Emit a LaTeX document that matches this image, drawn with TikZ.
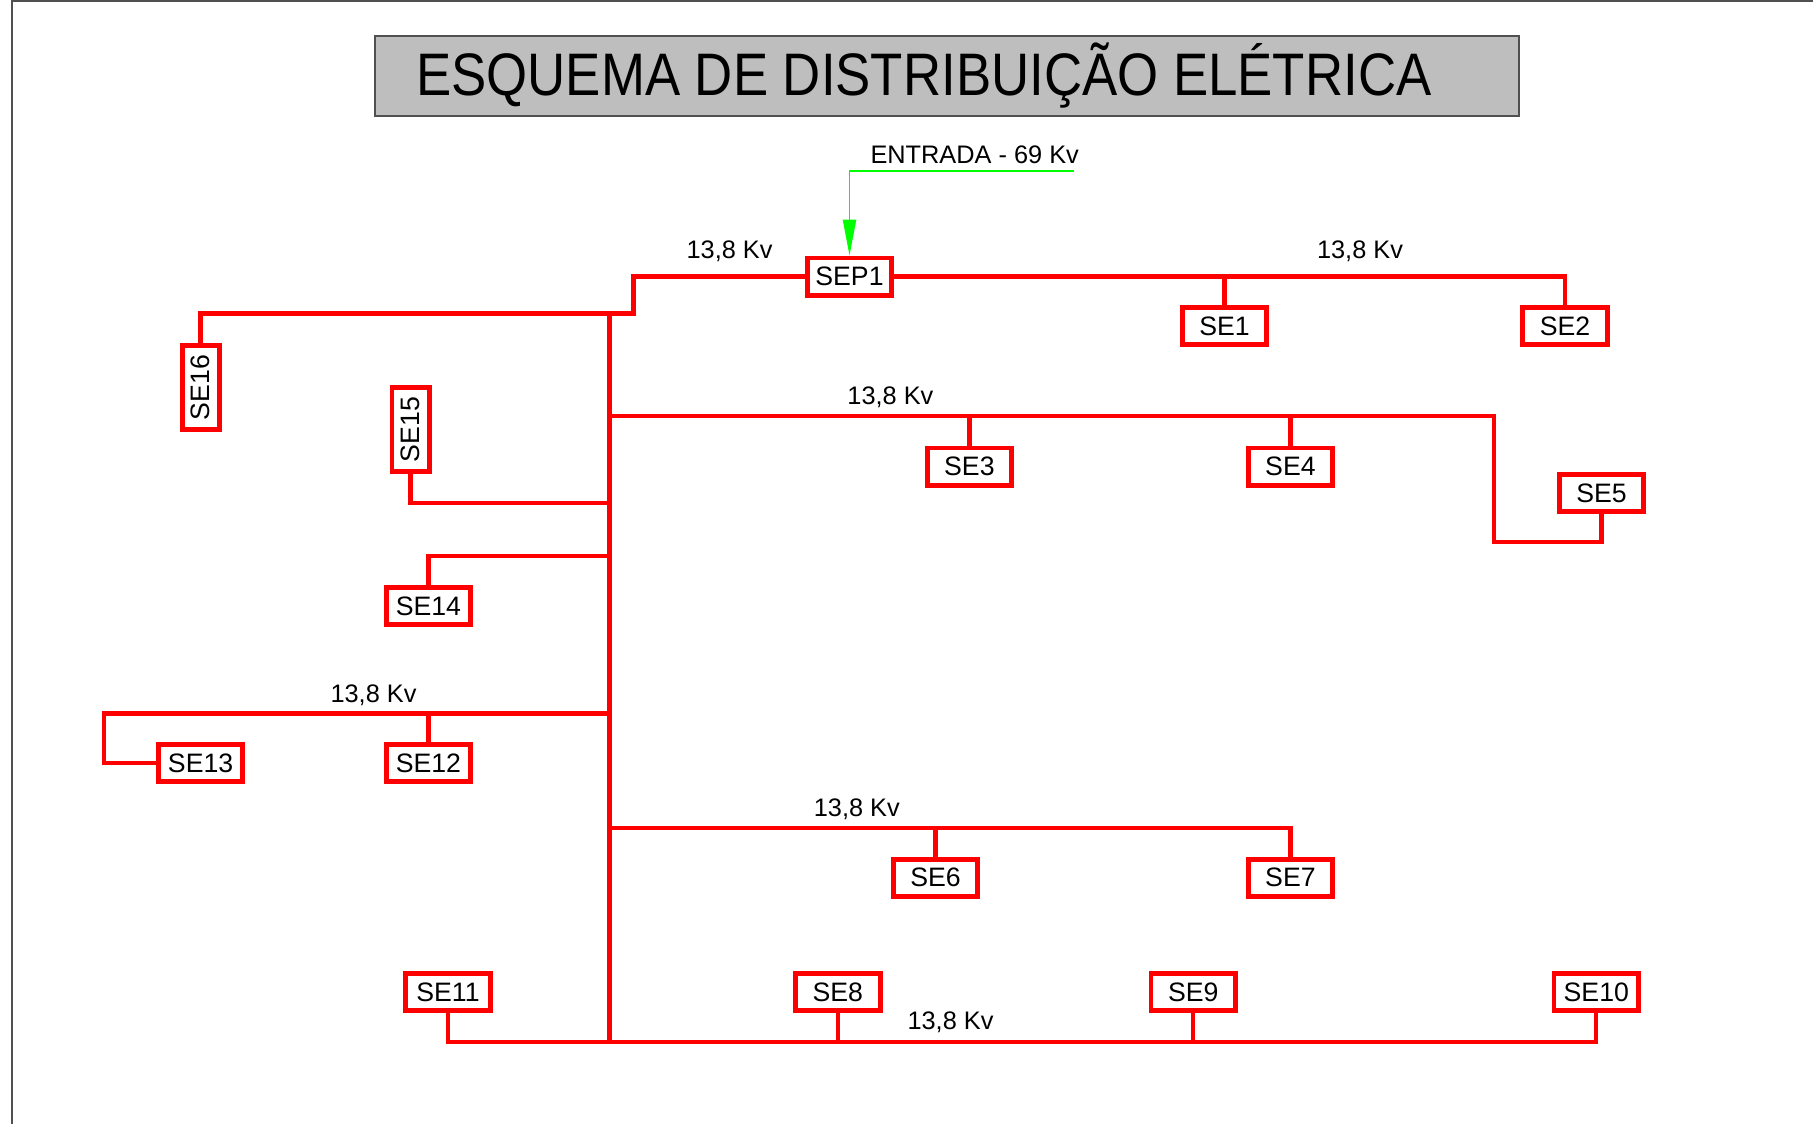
\documentclass[tikz,border=0pt]{standalone}
\usepackage{fontspec}
\setmainfont{Liberation Sans}
\usetikzlibrary{arrows.meta}

\definecolor{titlegray}{HTML}{BEBEBE}
\definecolor{framegray}{HTML}{505050}

\tikzset{
  sebox/.style={draw=red, line width=3.7pt, fill=white, inner sep=0pt,
    minimum width=63.5pt, minimum height=27.8pt, font=\fontsize{20}{24}\selectfont},
  wire/.style={draw=red, line width=3.2pt, line cap=rect, line join=miter},
  kvlabel/.style={anchor=base, font=\fontsize{19}{23}\selectfont},
}

\begin{document}
\begin{tikzpicture}[x=0.75pt, y=-0.75pt]
\useasboundingbox (0,0) rectangle (1813,1124);

% moldura
\draw[framegray, line width=1.5pt] (12,1124) -- (12,1) -- (1813,1);

% titulo
\node[draw=framegray, line width=1.5pt, fill=titlegray, minimum width=858pt, minimum height=60pt] (title) at (947,75.7) {};
\node[anchor=base west, inner sep=0pt, font=\fontsize{45}{54}\selectfont] (titletext) at (416,95) {\scalebox{0.88}[1]{ESQUEMA DE DISTRIBUIÇÃO ELÉTRICA}};

% entrada
\coordinate (in) at (1074,171);
\node[kvlabel] (entrada) at (974.7,163) {ENTRADA - 69 Kv};

% barramento de derivacao
\coordinate (bend) at (633.6,313.4);
\coordinate (trunktop) at (609.4,313.4);
\coordinate (trunkbot) at (609.4,1042);
\coordinate (ba) at (609.4,416);
\coordinate (bb) at (609.4,713.4);
\coordinate (bc) at (609.4,828);

\draw[wire] (trunktop) -- (trunkbot);

% subestacoes
\node[sebox] (SEP1) at (849.5,276.5) {SEP1};
\node[sebox] (SE1) at (1224.5,326) {SE1};
\node[sebox] (SE2) at (1565,326) {SE2};
\node[sebox] (SE3) at (969.4,466.5) {SE3};
\node[sebox] (SE4) at (1290.4,466.5) {SE4};
\node[sebox] (SE5) at (1601.5,493) {SE5};
\node[sebox] (SE6) at (935.5,877.7) {SE6};
\node[sebox] (SE7) at (1290.4,877.7) {SE7};
\node[sebox] (SE8) at (837.8,992) {SE8};
\node[sebox] (SE9) at (1193.3,992) {SE9};
\node[sebox] (SE10) at (1596.3,992) {SE10};
\node[sebox] (SE11) at (448,992) {SE11};
\node[sebox] (SE12) at (428.4,763) {SE12};
\node[sebox] (SE13) at (200.6,763) {SE13};
\node[sebox] (SE14) at (428.4,606) {SE14};
\node[sebox, rotate=90] (SE15) at (410.5,429.6) {SE15};
\node[sebox, rotate=90] (SE16) at (200.6,387.4) {SE16};

% ligacoes
\draw[wire] (SEP1.east) -- (SE2.north |- SEP1.east) -- (SE2.north);
\draw[wire] (SE1.north) -- (SE1.north |- SEP1.east);
\draw[wire] (SEP1.west) -| (bend) -- (SE16.east |- bend) -- (SE16.east);
\draw[wire] (trunktop) -- (bend);

\draw[wire] (ba) -- (1494,416) -- (1494,542.3) -| (SE5.south);
\draw[wire] (SE3.north) -- (SE3.north |- ba);
\draw[wire] (SE4.north) -- (SE4.north |- ba);

\draw[wire] (SE15.west) |- (609.4,503);
\draw[wire] (SE14.north) |- (609.4,556);

\draw[wire] (bb) -| (104,763) -- (SE13.west);
\draw[wire] (SE12.north) -- (SE12.north |- bb);

\draw[wire] (bc) -| (SE7.north);
\draw[wire] (SE6.north) -- (SE6.north |- bc);

\draw[wire] (SE11.south) |- (trunkbot) -| (SE10.south);
\draw[wire] (SE8.south) -- (SE8.south |- trunkbot);
\draw[wire] (SE9.south) -- (SE9.south |- trunkbot);

\draw[green, line width=1pt, -{Triangle[length=27pt, width=10pt]}] (in) -| (SEP1.north);

% tensoes
\node[kvlabel] (kv1) at (729.6,258) {13,8 Kv};
\node[kvlabel] (kv2) at (1360,258) {13,8 Kv};
\node[kvlabel] (kv3) at (890.4,404.7) {13,8 Kv};
\node[kvlabel] (kv4) at (373.5,702) {13,8 Kv};
\node[kvlabel] (kv5) at (856.8,816.4) {13,8 Kv};
\node[kvlabel] (kv6) at (950.5,1029) {13,8 Kv};
\end{tikzpicture}
\end{document}
